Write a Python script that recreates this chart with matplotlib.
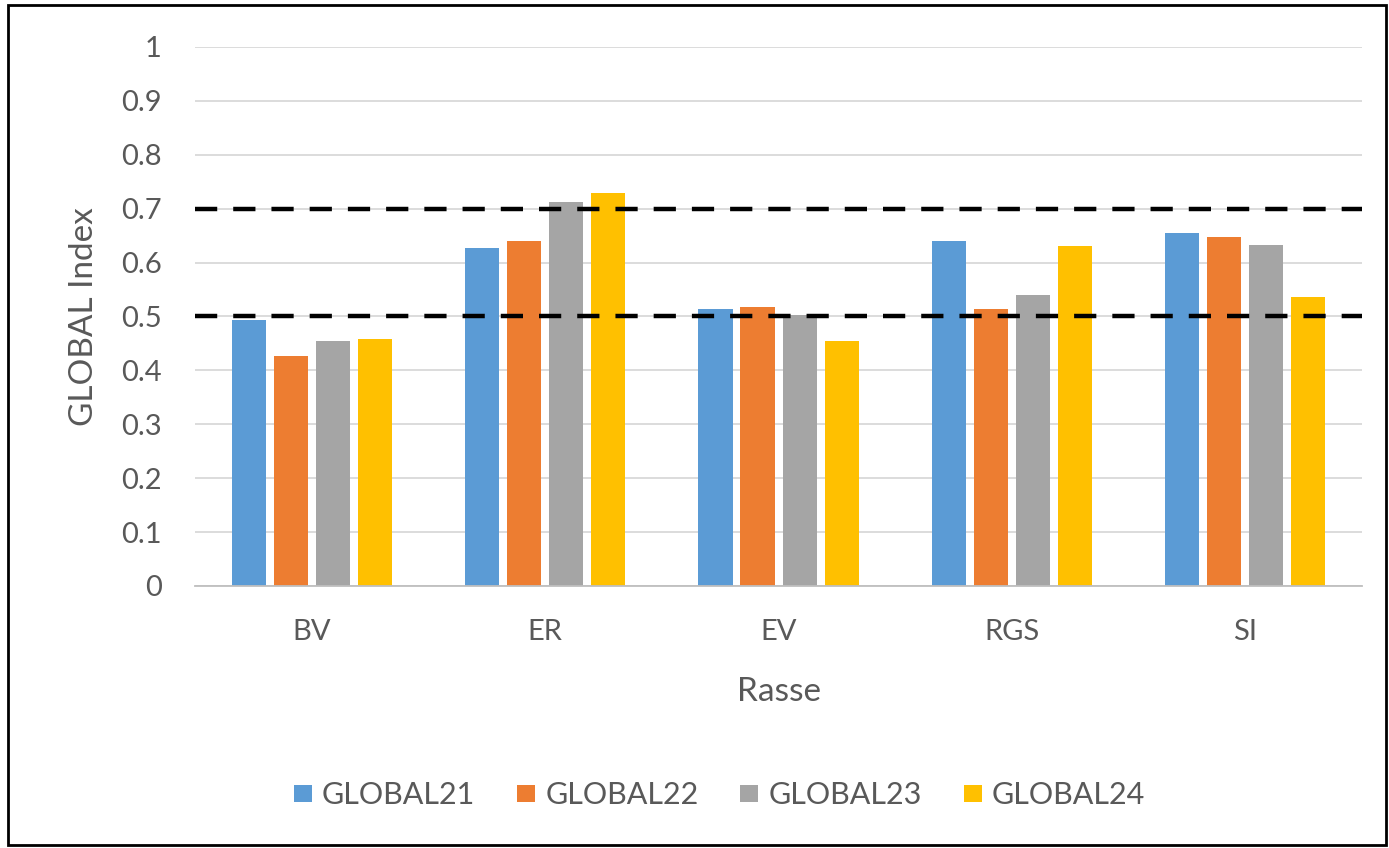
import matplotlib
matplotlib.use("Agg")
import matplotlib.pyplot as plt
from matplotlib.patches import Rectangle
import numpy as np

categories = ["BV", "ER", "EV", "RGS", "SI"]
series_names = ["GLOBAL21", "GLOBAL22", "GLOBAL23", "GLOBAL24"]
global21 = [0.494, 0.627, 0.514, 0.640, 0.654]
global22 = [0.427, 0.640, 0.518, 0.514, 0.647]
global23 = [0.455, 0.713, 0.503, 0.539, 0.633]
global24 = [0.458, 0.730, 0.455, 0.630, 0.536]
thresholds = [0.5, 0.7]
y_ticks = [0, 0.1, 0.2, 0.3, 0.4, 0.5, 0.6, 0.7, 0.8, 0.9, 1]
y_tick_labels = ["0", "0.1", "0.2", "0.3", "0.4", "0.5", "0.6", "0.7", "0.8", "0.9", "1"]

colors = ["#5B9BD5", "#ED7D31", "#A5A5A5", "#FFC000"]
text_color = "#595959"

plt.rcParams["font.family"] = ["Lato", "DejaVu Sans"]

fig = plt.figure(figsize=(13.89, 8.48), dpi=100)
ax = fig.add_axes([0.1404, 0.309, 0.8402, 0.6356])

x = np.arange(len(categories))
step = 0.18
width = 0.146
all_series = [global21, global22, global23, global24]
for i, (vals, name, col) in enumerate(zip(all_series, series_names, colors)):
    offs = (i - 1.5) * step
    ax.bar(x + offs, vals, width=width, color=col, label=name, zorder=2)

for t in thresholds:
    ax.axhline(t, color="black", linestyle=(0, (5.0, 3.6)), linewidth=3.2, zorder=3)

ax.set_xlim(-0.5, len(categories) - 0.5)
ax.set_ylim(0, 1)
ax.set_yticks(y_ticks)
ax.set_yticklabels(y_tick_labels)
ax.set_xticks(x)
ax.set_xticklabels(categories)
ax.grid(axis="y", color="#D9D9D9", linewidth=1.3, zorder=0)
ax.set_axisbelow(True)
for side in ["top", "right", "left"]:
    ax.spines[side].set_visible(False)
ax.spines["bottom"].set_color("#BFBFBF")
ax.spines["bottom"].set_linewidth(1.3)
ax.tick_params(axis="both", length=0, labelsize=21, colors=text_color)
ax.tick_params(axis="y", pad=24)
ax.tick_params(axis="x", pad=24)

ax.set_ylabel("GLOBAL Index", fontsize=24, color=text_color, labelpad=16)
ax.set_xlabel("Rasse", fontsize=24, color=text_color, labelpad=23)

handles, labels = ax.get_legend_handles_labels()
fig.legend(handles, labels, loc="center", bbox_to_anchor=(0.518, 0.062), ncol=4,
           frameon=False, fontsize=22, labelcolor=text_color,
           handlelength=0.59, handleheight=0.49, handletextpad=0.33, columnspacing=1.37)

fig.patches.append(Rectangle((0.0055, 0.003), 0.9925, 0.991, transform=fig.transFigure,
                             fill=False, edgecolor="black", linewidth=2))

fig.savefig("out.png", dpi=100)
